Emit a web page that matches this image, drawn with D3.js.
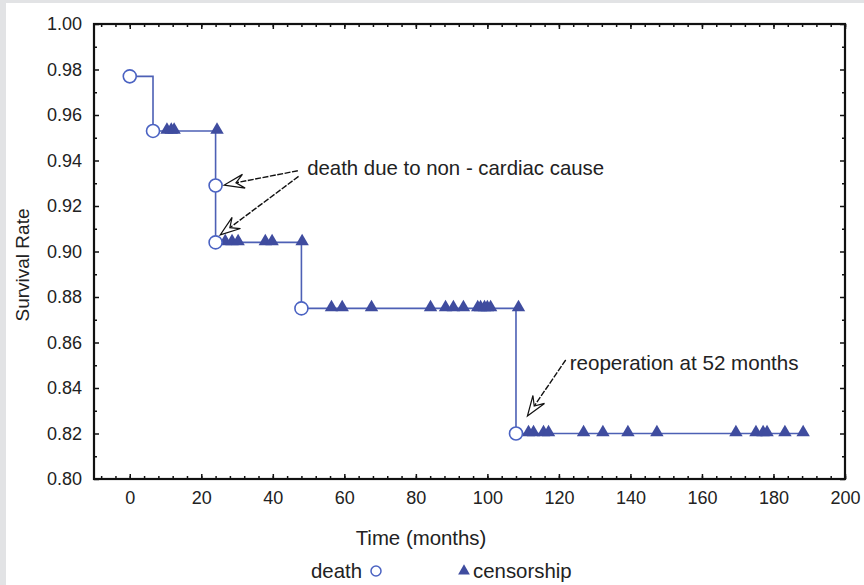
<!DOCTYPE html>
<html>
<head>
<meta charset="utf-8">
<script src="https://cdn.jsdelivr.net/npm/d3@7"></script>
<style>
  body { margin: 0; background: #e2e3e5; }
  svg { display: block; }
</style>
</head>
<body>
<div id="chart"></div>
<script>
// deaths (open circles)
const deathTimes = [0, 6.5, 24, 24, 48, 108];
const deathRates = [0.977, 0.953, 0.929, 0.904, 0.875, 0.820];

// censored (filled triangles)
const censorTimes = [10.4, 11.6, 12.4, 24.4,
                     26.7, 28.6, 30.3, 37.9, 39.8, 48.2,
                     56.4, 59.4, 67.6, 84.1, 88.3, 90.5, 93.3, 97.3, 98.1, 99.2, 100, 100.9, 108.7,
                     111.5, 112.9, 115.7, 117.1, 126.9, 132.3, 139.3, 147.4, 169.5, 175.1, 177.1, 178.2, 183.2, 188.3];
const censorRates = [0.953, 0.953, 0.953, 0.953,
                     0.904, 0.904, 0.904, 0.904, 0.904, 0.904,
                     0.875, 0.875, 0.875, 0.875, 0.875, 0.875, 0.875, 0.875, 0.875, 0.875, 0.875, 0.875, 0.875,
                     0.820, 0.820, 0.820, 0.820, 0.820, 0.820, 0.820, 0.820, 0.820, 0.820, 0.820, 0.820, 0.820, 0.820];
const lastTime = 188.3;

const xTicks = [0, 20, 40, 60, 80, 100, 120, 140, 160, 180, 200];
const yTicks = [0.80, 0.82, 0.84, 0.86, 0.88, 0.90, 0.92, 0.94, 0.96, 0.98, 1.00];

const width = 864;
const height = 585;
const margin = { top: 24, right: 19, bottom: 106, left: 94 };

const lineBlue = "#4d60b5";
const triBlue = "#3f4c9f";
const font = "'Liberation Sans', Arial, sans-serif";

const x = d3.scaleLinear()
            .domain([-10, 200])
            .range([margin.left, width - margin.right]);

const y = d3.scaleLinear()
            .domain([0.80, 1.00])
            .range([height - margin.bottom, margin.top]);

const svg = d3.select("#chart")
              .append("svg")
              .attr("width", width)
              .attr("height", height);

// white panel on gray page
svg.append("rect")
    .attr("x", 6).attr("y", 3)
    .attr("width", width - 6).attr("height", height - 3)
    .attr("fill", "#ffffff");

// minor + major ticks, all pointing inward
const minorX = d3.range(-8, 201, 4);
const minorY = d3.range(0.81, 1.0, 0.02);

function tickAxis(axis, transform, ticks, size, labels) {
    const g = svg.append("g")
        .attr("transform", transform)
        .call(axis.tickValues(ticks).tickSize(size).tickPadding(labels ? 12 : 0)
                  .tickFormat(labels ? labels : () => ""));
    g.select(".domain").remove();
    g.selectAll(".tick line").attr("stroke", "#111").attr("stroke-width", 1.5);
    g.selectAll("text").attr("font-family", font).attr("font-size", 18).attr("fill", "#222");
    return g;
}

const bottomY = height - margin.bottom;
const rightX = width - margin.right;

tickAxis(d3.axisBottom(x), `translate(0,${bottomY})`, minorX, -3, null);
tickAxis(d3.axisBottom(x), `translate(0,${bottomY})`, xTicks, -5, d3.format("d"));
tickAxis(d3.axisTop(x), `translate(0,${margin.top})`, minorX, -3, null);
tickAxis(d3.axisTop(x), `translate(0,${margin.top})`, xTicks, -5, null);
tickAxis(d3.axisLeft(y), `translate(${margin.left},0)`, minorY, -3, null);
tickAxis(d3.axisLeft(y), `translate(${margin.left},0)`, yTicks, -5, d3.format(".2f"));
tickAxis(d3.axisRight(y), `translate(${rightX},0)`, minorY, -3, null);
tickAxis(d3.axisRight(y), `translate(${rightX},0)`, yTicks, -5, null);

// frame
svg.append("rect")
    .attr("x", margin.left).attr("y", margin.top)
    .attr("width", rightX - margin.left)
    .attr("height", bottomY - margin.top)
    .attr("fill", "none")
    .attr("stroke", "#111")
    .attr("stroke-width", 2.2);

// survival step curve
const curvePts = deathTimes.map((t, i) => [t, deathRates[i]]);
curvePts.push([lastTime, deathRates[deathRates.length - 1]]);

svg.append("path")
    .datum(curvePts)
    .attr("fill", "none")
    .attr("stroke", lineBlue)
    .attr("stroke-width", 1.6)
    .attr("d", d3.line().x(d => x(d[0])).y(d => y(d[1])).curve(d3.curveStepAfter));

// censored triangles
const tri = d3.symbol().type(d3.symbolTriangle).size(78);
svg.append("g")
    .selectAll("path")
    .data(censorTimes)
    .join("path")
        .attr("transform", (d, i) => `translate(${x(d)},${y(censorRates[i]) - 1})`)
        .attr("d", tri)
        .attr("fill", triBlue);

// death circles
svg.append("g")
    .selectAll("circle")
    .data(deathTimes)
    .join("circle")
        .attr("cx", d => x(d))
        .attr("cy", (d, i) => y(deathRates[i]))
        .attr("r", 6.5)
        .attr("fill", "#fff")
        .attr("stroke", "#4a62c2")
        .attr("stroke-width", 1.6);

// annotation arrows (hollow heads, dashed shafts)
function arrow(x1, y1, x2, y2) {
    const a = Math.atan2(y2 - y1, x2 - x1);
    const L = 20, W = 7;
    const pt = (dx, dy) => [x2 + dx * Math.cos(a) - dy * Math.sin(a),
                            y2 + dx * Math.sin(a) + dy * Math.cos(a)];
    const base = pt(-L * 0.6, 0);
    svg.append("line")
        .attr("x1", x1).attr("y1", y1)
        .attr("x2", base[0]).attr("y2", base[1])
        .attr("stroke", "#111")
        .attr("stroke-width", 1.4)
        .attr("stroke-dasharray", "6,1.5");
    const head = [pt(0, 0), pt(-L, -W), pt(-L * 0.6, 0), pt(-L, W)];
    svg.append("path")
        .attr("d", "M" + head.map(p => p.join(",")).join("L") + "Z")
        .attr("fill", "#fff")
        .attr("stroke", "#111")
        .attr("stroke-width", 1.2);
}

arrow(x(47), y(0.9355), x(26.4), y(0.9292));
arrow(x(47.2), y(0.9330), x(25.3), y(0.9073));
arrow(x(121.9), y(0.8523), x(111.2), y(0.8277));

svg.append("text")
    .attr("x", x(49.6)).attr("y", y(0.9335))
    .attr("font-family", font).attr("font-size", 20.4).attr("fill", "#222")
    .text("death due to non - cardiac cause");

svg.append("text")
    .attr("x", x(123)).attr("y", y(0.848))
    .attr("font-family", font).attr("font-size", 20.6).attr("fill", "#222")
    .text("reoperation at 52 months");

// axis titles
svg.append("text")
    .attr("x", 421).attr("y", 545)
    .attr("text-anchor", "middle")
    .attr("font-family", font).attr("font-size", 20.4).attr("fill", "#222")
    .text("Time (months)");

svg.append("text")
    .attr("transform", "translate(29,265) rotate(-90)")
    .attr("text-anchor", "middle")
    .attr("font-family", font).attr("font-size", 19).attr("fill", "#222")
    .text("Survival Rate");

// legend
const legend = svg.append("g");
legend.append("text")
    .attr("x", 311).attr("y", 578)
    .attr("font-family", font).attr("font-size", 20.4).attr("fill", "#222")
    .text("death");
legend.append("circle")
    .attr("cx", 376).attr("cy", 571).attr("r", 5)
    .attr("fill", "#fff").attr("stroke", "#4a62c2").attr("stroke-width", 1.5);
legend.append("path")
    .attr("transform", "translate(464,571)")
    .attr("d", d3.symbol().type(d3.symbolTriangle).size(60))
    .attr("fill", triBlue);
legend.append("text")
    .attr("x", 473).attr("y", 578)
    .attr("font-family", font).attr("font-size", 20.4).attr("fill", "#222")
    .text("censorship");
</script>
</body>
</html>
